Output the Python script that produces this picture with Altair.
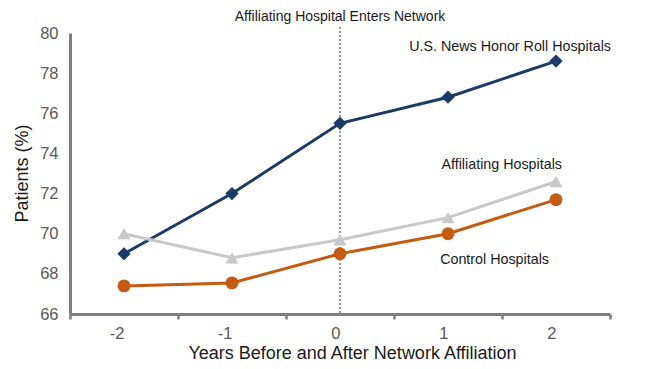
import altair as alt
import pandas as pd

years = ["-2", "-1", "0", "1", "2"]
honor_roll = [69.0, 72.0, 75.5, 76.8, 78.6]
affiliating = [70.0, 68.8, 69.7, 70.8, 72.6]
control = [67.4, 67.55, 69.0, 70.0, 71.7]
series_names = ["U.S. News Honor Roll Hospitals", "Affiliating Hospitals", "Control Hospitals"]
series_colors = ["#1b3a67", "#c8c8c8", "#c55a11"]
series_shapes = ["diamond", "triangle-up", "circle"]
series_sizes = [175, 165, 140]
y_ticks = [66, 68, 70, 72, 74, 76, 78, 80]
event_year = ["0"]
event_label = "Affiliating Hospital Enters Network"

rows = []
for name, vals in zip(series_names, [honor_roll, affiliating, control]):
    for yr, v in zip(years, vals):
        rows.append({"year": yr, "value": v, "series": name})
df = pd.DataFrame(rows)

FONT = "Liberation Sans"
x_scale = alt.Scale(type="band", domain=years, paddingInner=0, paddingOuter=0)

x_enc = alt.X("year:O", sort=years, scale=x_scale,
              axis=alt.Axis(title="Years Before and After Network Affiliation", labelAngle=0,
                            tickBand="extent", domainColor="#7f7f7f", domainWidth=3,
                            tickColor="#7f7f7f", tickWidth=2.5, tickSize=5,
                            labelColor="#595959", labelFontSize=16.5, labelFont=FONT, labelPadding=14,
                            titleFont=FONT, titleFontSize=18, titleFontWeight="normal",
                            titleColor="#1a1a1a", titleBaseline="middle", titleAnchor="middle",
                            titleX=282, titleY=39))
y_scale = alt.Scale(domain=[66, 80], nice=False, zero=False)
y_enc = alt.Y("value:Q", scale=y_scale,
              axis=alt.Axis(title="Patients (%)", values=y_ticks, ticks=False, grid=False,
                            domainColor="#7f7f7f", domainWidth=3,
                            labelColor="#595959", labelFontSize=16.5, labelFont=FONT, labelPadding=12,
                            titleFont=FONT, titleFontSize=18, titleFontWeight="normal",
                            titleColor="#1a1a1a", titleAnchor="middle", titleBaseline="middle",
                            titleX=-48, titleY=140))
color_enc = alt.Color("series:N", scale=alt.Scale(domain=series_names, range=series_colors), legend=None)
shape_enc = alt.Shape("series:N", scale=alt.Scale(domain=series_names, range=series_shapes), legend=None)
size_enc = alt.Size("series:N", scale=alt.Scale(domain=series_names, range=series_sizes), legend=None)

base = alt.Chart(df)
lines = base.mark_line(strokeWidth=3).encode(x=x_enc, y=y_enc, color=color_enc, detail="series:N")
points = base.mark_point(filled=True, opacity=1).encode(
    x=x_enc, y=y_enc, color=color_enc, shape=shape_enc, size=size_enc)

ev = pd.DataFrame({"year": event_year, "label": [event_label]})
ev_x = alt.X("year:O", sort=years, scale=x_scale, bandPosition=0.5)
rule = alt.Chart(ev).mark_rule(color="#333333", strokeDash=[2, 2], strokeWidth=1).encode(
    x=ev_x, y=alt.value(-6), y2=alt.value(281))
ev_text = alt.Chart(ev).mark_text(fontSize=14, font=FONT, color="#1a1a1a", baseline="middle").encode(
    x=ev_x, y=alt.value(-16), text="label:N")

last = df[df["year"] == years[-1]].copy()
lab_us = alt.Chart(last[last["series"] == series_names[0]]).mark_text(
    fontSize=14.3, font=FONT, color="#1a1a1a", align="right", baseline="middle", dx=55, dy=-14).encode(
    x=x_enc, y=y_enc, text="series:N")
lab_aff = alt.Chart(last[last["series"] == series_names[1]]).mark_text(
    fontSize=14.3, font=FONT, color="#1a1a1a", align="right", baseline="middle", dx=6, dy=-17).encode(
    x=x_enc, y=y_enc, text="series:N")
lab_ctl = alt.Chart(last[last["series"] == series_names[2]]).mark_text(
    fontSize=14.3, font=FONT, color="#1a1a1a", align="right", baseline="middle", dx=-7, dy=60).encode(
    x=x_enc, y=y_enc, text="series:N")

chart = alt.layer(rule, lines, points, ev_text, lab_us, lab_aff, lab_ctl).properties(
    width=540, height=281,
    autosize=alt.AutoSizeParams(type="none"),
    padding={"left": 70, "top": 33, "right": 36, "bottom": 55},
    background="white",
).configure_view(stroke=None)

chart.save("out.html", embed_options={"renderer": "svg", "actions": False})
